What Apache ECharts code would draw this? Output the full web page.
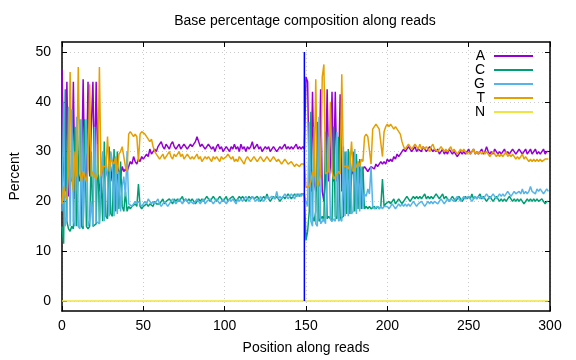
<!DOCTYPE html>
<html><head><meta charset="utf-8">
<script src="https://cdn.jsdelivr.net/npm/echarts@6/dist/echarts.min.js"></script>
<style>html,body{margin:0;padding:0;background:#fff}#c{width:576px;height:360px}</style>
</head><body><div id="c"></div>
<script>
const seriesNames = ['A', 'C', 'G', 'T', 'N'];
const seriesColors = ['#9400d3', '#009e73', '#56b4e9', '#e69f00', '#f0e442'];
const xTicks = [0, 50, 100, 150, 200, 250, 300];
const yTicks = [0, 10, 20, 30, 40, 50];
const firstPosition = 0;
const readBoundary = 149;

// A (%), read 1: positions 0-149
const A_read1 = [
 46.5, 27, 22, 44, 21, 26, 24, 44, 20.5, 27,
 26, 24, 25, 44.5, 24, 25, 44, 25, 25, 44,
 25, 44, 27, 22, 24, 27, 25, 27, 25, 26,
 24, 27, 25, 24, 27, 26, 25, 27, 26, 26.5,
 26, 27, 28, 27.5, 29, 28, 27.5, 28.5, 28, 29,
 28.5, 29, 29.5, 29, 30.5, 29.5, 30, 30.5, 30, 31,
 31.5, 32, 31, 30.5, 31.5, 31, 30.5, 31.5, 32, 31,
 30.5, 31, 31.5, 30.5, 31, 31.5, 31, 30.5, 31, 31.5,
 31, 31.5, 32, 33, 32, 31, 31.5, 31, 30.5, 31,
 31.5, 31, 30.5, 31, 30, 31, 31.5, 30.5, 31, 30,
 30.5, 31, 30.5, 30, 31, 30.5, 31.5, 30.5, 31, 30,
 31.5, 30.5, 31, 30, 31, 30.5, 31, 32, 30.5, 31,
 31.5, 30.5, 31, 30, 30.5, 31, 30.5, 31, 30, 30.5,
 31, 30.5, 30, 30.5, 31, 30.5, 31, 31.5, 30.5, 31,
 30.5, 31, 30.5, 31, 31.5, 30.5, 31, 30.5, 31, 30.5
];
// A (%), read 2: positions 150-299
const A_read2 = [
 45, 44, 23, 22, 42, 24, 22, 26, 23, 42.5,
 22, 20, 25, 42.5, 24, 27, 42, 24, 42, 24,
 25, 41.5, 22, 25, 26, 25.5, 26, 25, 25.5, 26,
 25.5, 26, 25.5, 26.5, 26, 26.5, 27, 26.5, 26, 26.5,
 27, 27, 26.5, 27.5, 27, 27.5, 28, 27.5, 28, 27.5,
 28.5, 28, 28.5, 28, 29, 28.5, 29.5, 29, 29.5, 30,
 30.5, 30, 30.5, 31, 30.5, 30, 30.5, 31, 30, 30.5,
 30.5, 30, 31, 30.5, 30, 30.5, 31, 30.5, 30, 30.5,
 30, 30.5, 29.5, 30, 30.5, 29.5, 30, 29.5, 30.5, 30,
 29.5, 30, 29.5, 29, 29.5, 30, 29.5, 30, 29.5, 30,
 30.5, 29.5, 30, 30.5, 29.5, 30, 29.5, 30, 30.5, 29.5,
 30, 31, 30, 29.5, 30, 29.5, 30.5, 30, 29.5, 30,
 29.5, 30, 30.5, 29.5, 30, 29.5, 30, 30.5, 30, 29.5,
 30, 30.5, 30, 29.5, 30, 30.5, 29.5, 30, 30.5, 29.5,
 30, 30.5, 29.5, 30, 29.5, 30, 30.5, 29.5, 30, 30
];

const C_read1 = [
 15, 11.5, 42.5, 16, 14.5, 14, 15, 14.5, 35, 15,
 15, 36.5, 15, 14.5, 36.5, 15, 14.5, 15, 30, 15,
 15, 15.5, 31.5, 15.5, 25, 16, 32, 17, 16.5, 31,
 17.5, 17, 30.5, 18, 30, 18.5, 28, 19, 18, 22,
 18, 19, 18.5, 19, 19, 19.5, 19, 23.5, 19, 18.5,
 19, 19, 19.5, 19, 19.5, 19.5, 19, 20, 19.5, 19.5,
 19.5, 20, 20.5, 19.5, 20, 20, 20.5, 20, 19.5, 20.5,
 20, 20.5, 20, 20.5, 21, 20, 20.5, 20, 20.5, 20,
 20.5, 20, 19.5, 20, 20.5, 20, 20.5, 20, 20.5, 21,
 20.5, 20, 20.5, 21, 20.5, 20, 20.5, 21, 20.5, 20,
 20.5, 21, 20, 20.5, 20.5, 21, 20.5, 20, 20.5, 21,
 20.5, 21, 20.5, 20, 20.5, 21, 20.5, 21, 20.5, 20.5,
 21, 20.5, 20, 20.5, 21, 20.5, 21.5, 20.5, 20, 20.5,
 21, 20.5, 21, 20.5, 20, 20.5, 21, 20.5, 21, 21.5,
 21, 20.5, 21, 21.5, 21, 21.5, 21, 21.5, 21.5, 21.5
];
const C_read2 = [
 12.2, 14, 18, 38, 17, 16, 18, 36, 16, 16.5,
 17, 16, 34, 16.5, 17, 16.5, 16, 35, 17, 16.5,
 33, 16.5, 16.5, 17, 30, 17.5, 30.5, 17.5, 25, 30,
 18, 29.5, 18.5, 28.5, 18.5, 27, 18.5, 19, 18.5, 19,
 18.5, 18.5, 19, 18.5, 19, 18.5, 19, 24.5, 19, 19.5,
 19.5, 20, 19.5, 20, 20.5, 19.5, 20, 20.5, 20, 19.5,
 20, 20.5, 21, 20.5, 20, 20.5, 21, 20.5, 21, 20.5,
 21, 20.5, 21, 21.5, 20.5, 21, 20.5, 21, 20.5, 21,
 21.5, 21, 20.5, 21, 21.5, 20.5, 21, 20.5, 20, 20.5,
 21, 20.5, 20, 20.5, 21, 20.5, 20, 20.5, 21, 20.5,
 21, 20.5, 21.5, 20.5, 21, 20.5, 21, 21.5, 20.5, 21,
 20.5, 20, 20.5, 21, 20.5, 20, 20.5, 21, 20.5, 20,
 20.5, 20, 20.5, 20, 20.5, 21, 20.5, 20, 20.5, 20,
 20.5, 20, 20.5, 20, 19.5, 20, 20.5, 20, 20.5, 20,
 20.5, 20, 20.5, 20, 20, 20.5, 20, 19.5, 20, 20
];

const G_read1 = [
 18, 40, 15, 17, 39, 15, 38.5, 16, 15, 37,
 15, 14.5, 36.5, 15, 15, 36.5, 15, 16, 20, 15,
 35, 16, 16, 15.5, 26, 30, 16, 29, 25, 17,
 30, 28, 17, 29, 17.5, 26, 18, 23, 25, 21,
 30, 19.5, 19.5, 19, 19.5, 20, 19.5, 20, 19.5, 19,
 19.5, 20, 19.5, 20.5, 20, 19.5, 20, 19.5, 20, 20.5,
 19.5, 19, 19.5, 20, 19.5, 19, 19.5, 20, 20.5, 20,
 19.5, 20, 20.5, 20, 19.5, 20, 20.5, 20, 19.5, 20,
 20, 19.5, 20, 20.5, 20, 19.5, 20, 20.5, 19.5, 20,
 20, 20.5, 20, 19.5, 20, 20.5, 20, 19.5, 20, 20.5,
 20, 19.5, 20, 20.5, 20, 20.5, 20, 19.5, 20.5, 20,
 20.5, 20, 20.5, 21, 20.5, 20, 20.5, 21, 20.5, 20,
 20.5, 20, 21, 20.5, 20, 20.5, 21, 20.5, 20.5, 21,
 21, 20.5, 22, 20.5, 21, 20.5, 21, 21.5, 21, 20.5,
 21, 21.5, 21, 20.5, 21.5, 21, 21.5, 21, 21.5, 21
];
const G_read2 = [
 20, 19, 36, 16, 15, 35, 15.5, 15, 37, 15.5,
 16, 16.5, 15.5, 15.5, 33, 16.5, 16, 16.5, 16, 34,
 16, 16.5, 16, 31, 17, 30, 17, 30, 17.5, 18,
 30.5, 17.5, 28, 18, 27, 18.5, 21.5, 21, 22.5, 21.5,
 27, 19, 18.5, 18.5, 19, 18.5, 19, 18.5, 19, 19,
 19, 18.5, 19, 19.5, 19, 18.5, 19, 19.5, 19, 19.5,
 19, 19.5, 19, 19.5, 19, 19.5, 20, 19.5, 19, 19.5,
 19.5, 20, 19.5, 19, 19.5, 20, 19.5, 20, 19.5, 20,
 20, 19.5, 20, 20.5, 20, 19.5, 20, 20.5, 20, 20.5,
 20.5, 20, 20.5, 21, 20.5, 20, 20.5, 21, 20.5, 20.5,
 21, 20.5, 20, 20.5, 21, 20.5, 21, 20.5, 21, 20.5,
 21, 21.5, 21, 20.5, 21, 21.5, 21, 20.5, 21, 21.5,
 21, 21.5, 21, 21.5, 22, 21.5, 21, 21.5, 22, 21.5,
 21.5, 22, 21.5, 22.5, 21.5, 22, 21.5, 22, 23, 22,
 22, 21.5, 22.5, 22, 22.5, 22, 21.5, 22, 22.5, 22
];

const T_read1 = [
 19.5, 23, 21, 20.5, 26, 46, 25, 22, 30, 25,
 47, 26, 24, 26, 25, 24, 26.5, 43.5, 25, 26,
 25, 24.5, 25.5, 47, 25, 27, 27, 27, 33, 26,
 28.5, 28, 27.5, 29, 25.5, 29.5, 30, 31, 29, 27,
 26, 33.5, 34, 33.5, 33, 33.5, 33, 28, 33.5, 34,
 34, 33.5, 33, 32.5, 32, 32.5, 31, 30, 29.5, 29,
 28.5, 29, 29.5, 28.5, 29, 29.5, 30, 29, 28.5, 29.5,
 29, 29.5, 30, 29, 29.5, 28.5, 29, 29.5, 29, 28.5,
 29, 28.5, 29, 29.5, 28.5, 29, 28, 28.5, 29, 28.5,
 29, 28.5, 28, 29, 28.5, 29, 28.5, 28, 29, 28.5,
 28.5, 29, 29.5, 29, 28.5, 29, 28, 28.5, 28, 29,
 28.5, 28, 27.5, 28.5, 29, 28.5, 28, 28.5, 29, 28.5,
 28, 28.5, 29, 28.5, 28, 28.5, 29, 28.5, 28, 28.5,
 29, 28.5, 28, 28.5, 28, 27.5, 28, 28.5, 28, 27.5,
 27.5, 28, 27.5, 27, 27.5, 27.5, 27, 27.5, 27.5, 27.5
];
const T_read2 = [
 22.8, 23, 23, 24, 26, 25, 44.5, 23, 24, 25.5,
 45, 47.5, 25.5, 25.5, 26, 40, 26, 24.5, 25, 25.5,
 26, 25.5, 45.5, 27, 27, 27, 26.5, 27.5, 32, 26,
 26, 27, 28, 27, 28.5, 28, 33, 33.5, 33, 33,
 27.5, 34.5, 35, 35.5, 35, 34.5, 34.5, 29, 34, 35,
 35.5, 35, 35.5, 35, 34.5, 35, 34.5, 34, 33.5, 32,
 31, 30.5, 31, 31.5, 31, 30.5, 31, 31.5, 31, 30.5,
 31.5, 30.5, 31, 30.5, 31, 30.5, 30, 31, 31.5, 30.5,
 30.5, 30, 30.5, 31, 30.5, 30, 30.5, 30, 30.5, 31,
 30, 30.5, 30, 29.5, 30, 30.5, 30, 30.5, 30, 29.5,
 30, 29.5, 30, 30.5, 29.5, 30, 29.5, 30, 29.5, 30,
 29.5, 30, 29.5, 29, 29.5, 30, 29.5, 29, 29.5, 29,
 29.5, 29, 29.5, 30, 29, 29.5, 29, 29.5, 29, 28.5,
 29, 28.5, 29, 29.5, 28.5, 29, 28.5, 28, 28.5, 28,
 28.5, 28, 28.5, 28, 28.5, 28, 28, 28.5, 28.5, 28.5
];

// N (%) as [position, value] points where it departs from zero
const N_points = [[0, 0], [100, 0], [101, 0.4], [102, 0], [134, 0], [135, 0.3], [136, 0], [260, 0], [261, 0.3], [262, 0], [299, 0]];

function toPairs(vals) { return vals.map((v, i) => [firstPosition + i, v]); }
const seriesData = [
  toPairs(A_read1.concat(A_read2)),
  toPairs(C_read1.concat(C_read2)),
  toPairs(G_read1.concat(G_read2)),
  toPairs(T_read1.concat(T_read2)),
  N_points
];

const FONT = 'Liberation Sans, Arial, sans-serif';
const chart = echarts.init(document.getElementById('c'), null, { renderer: 'canvas' });

const axisLineStyle = { show: true, onZero: false, lineStyle: { color: '#000', width: 1.5 } };
const tickStyle = { show: true, inside: true, length: 5, lineStyle: { color: '#000', width: 1 } };

const series = seriesNames.map((n, i) => ({
  name: n, type: 'line', data: seriesData[i], showSymbol: false, symbol: 'none',
  lineStyle: { color: seriesColors[i], width: 1.5 }, itemStyle: { color: seriesColors[i] },
  animation: false, z: 3 + i
}));
series.push({
  name: 'boundary', type: 'line', data: [[readBoundary, 0], [readBoundary, 50]],
  showSymbol: false, symbol: 'none', lineStyle: { color: '#0000ff', width: 1.5 }, z: 10, animation: false
});

chart.setOption({
  animation: false,
  backgroundColor: '#fff',
  title: {
    text: 'Base percentage composition along reads',
    left: 305, top: 14, textAlign: 'center', padding: 0,
    textStyle: { fontFamily: FONT, fontSize: 14, fontWeight: 'normal', color: '#000' }
  },
  legend: {
    data: seriesNames, orient: 'vertical', right: 43, top: 49, align: 'right', padding: 0,
    itemWidth: 39, itemHeight: 2, itemGap: 0, icon: 'rect',
    textStyle: { fontFamily: FONT, fontSize: 14, color: '#000', padding: [0, 4, 0, 0], lineHeight: 14 }
  },
  grid: { left: 61, right: 26, top: 42, bottom: 45, containLabel: false },
  xAxis: [{
    type: 'value', min: 0, max: 300, interval: 50, position: 'bottom',
    name: 'Position along reads', nameLocation: 'middle', nameGap: 30,
    nameTextStyle: { fontFamily: FONT, fontSize: 14, color: '#000' },
    axisLine: axisLineStyle, axisTick: tickStyle,
    axisLabel: { fontFamily: FONT, fontSize: 14, color: '#000', margin: 8 },
    splitLine: { show: true, lineStyle: { color: '#cccccc', type: [1, 3], width: 1 } }
  }, {
    type: 'value', min: 0, max: 300, interval: 50, position: 'top',
    axisLine: axisLineStyle, axisTick: tickStyle, axisLabel: { show: false }, splitLine: { show: false }
  }],
  yAxis: [{
    type: 'value', min: -2, max: 52, position: 'left',
    name: 'Percent', nameLocation: 'middle', nameGap: 40,
    nameTextStyle: { fontFamily: FONT, fontSize: 14, color: '#000' },
    axisLine: axisLineStyle,
    axisTick: Object.assign({}, tickStyle, { customValues: yTicks }),
    axisLabel: { fontFamily: FONT, fontSize: 14, color: '#000', margin: 11, customValues: yTicks },
    splitLine: { show: true, lineStyle: { color: '#cccccc', type: [1, 3], width: 1 } }
  }, {
    type: 'value', min: -2, max: 52, position: 'right',
    axisLine: axisLineStyle,
    axisTick: Object.assign({}, tickStyle, { customValues: yTicks }),
    axisLabel: { show: false, customValues: yTicks }, splitLine: { show: false }
  }],
  series: series
});
</script>
</body></html>
